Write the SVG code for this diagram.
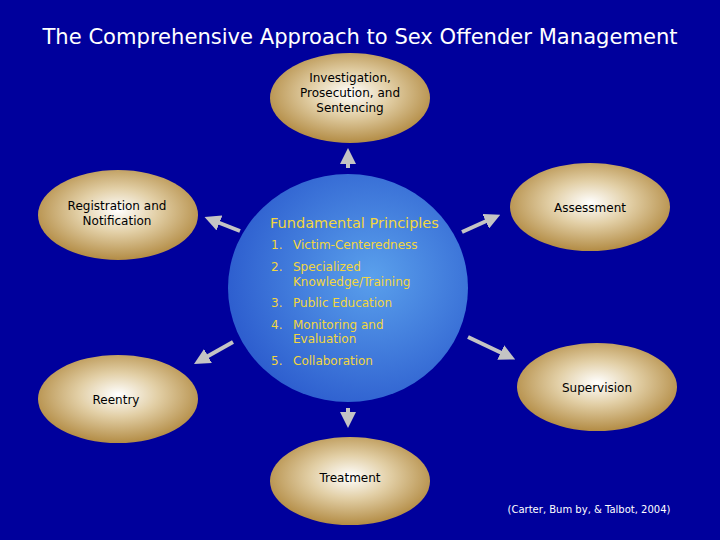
<svg xmlns="http://www.w3.org/2000/svg" width="720" height="540" viewBox="0 0 720 540">
<style>
.n{font-family:"DejaVu Sans",Verdana,sans-serif;font-size:12px;fill:#000;text-anchor:middle}
.y{font-family:"DejaVu Sans",Verdana,sans-serif;font-size:12px;fill:#f2d640}
.h{font-family:"DejaVu Sans",Verdana,sans-serif;font-size:14.5px;fill:#f2d640}
.c{stroke:#c4c4c4;stroke-width:4;fill:none;marker-end:url(#ah)}
</style>
<defs>
<radialGradient id="g" cx="50%" cy="45%" r="55%"><stop offset="0" stop-color="#ffffff"/><stop offset="0.45" stop-color="#e2cfa6"/><stop offset="1" stop-color="#b38c45"/></radialGradient>
<radialGradient id="b" cx="60%" cy="45%" r="60%"><stop offset="0" stop-color="#5aa0ec"/><stop offset="1" stop-color="#2e5fcf"/></radialGradient>
<marker id="ah" markerWidth="4" markerHeight="4" refX="2" refY="2" orient="auto" markerUnits="strokeWidth"><path d="M0,0L4,2L0,4z" fill="#c4c4c4"/></marker>
</defs>
<rect width="720" height="540" fill="#00009c"/>
<text x="360" y="44" font-family="'DejaVu Sans',sans-serif" font-size="22" fill="#fff" text-anchor="middle" textLength="635" lengthAdjust="spacingAndGlyphs">The Comprehensive Approach to Sex Offender Management</text>
<g id="center"><ellipse cx="348" cy="288" rx="120" ry="114" fill="url(#b)"/>
<text class="h" x="270" y="228">Fundamental Principles</text>
<text class="y" x="271" y="249">1.</text><text class="y" x="293" y="249">Victim-Centeredness</text>
<text class="y" x="271" y="271">2.</text><text class="y" x="293" y="271">Specialized</text><text class="y" x="293" y="286">Knowledge/Training</text>
<text class="y" x="271" y="307">3.</text><text class="y" x="293" y="307">Public Education</text>
<text class="y" x="271" y="329">4.</text><text class="y" x="293" y="329">Monitoring and</text><text class="y" x="293" y="343">Evaluation</text>
<text class="y" x="271" y="365">5.</text><text class="y" x="293" y="365">Collaboration</text></g>
<g id="investigation"><ellipse cx="350" cy="98" rx="80" ry="45" fill="url(#g)"/><text class="n" x="350" y="82">Investigation,</text><text class="n" x="350" y="97">Prosecution, and</text><text class="n" x="350" y="112">Sentencing</text></g>
<g id="registration"><ellipse cx="118" cy="215" rx="80" ry="45" fill="url(#g)"/><text class="n" x="117" y="210">Registration and</text><text class="n" x="117" y="225">Notification</text></g>
<g id="assessment"><ellipse cx="590" cy="207" rx="80" ry="44" fill="url(#g)"/><text class="n" x="590" y="212">Assessment</text></g>
<g id="supervision"><ellipse cx="597" cy="387" rx="80" ry="44" fill="url(#g)"/><text class="n" x="597" y="392">Supervision</text></g>
<g id="reentry"><ellipse cx="118" cy="399" rx="80" ry="44" fill="url(#g)"/><text class="n" x="116" y="404">Reentry</text></g>
<g id="treatment"><ellipse cx="350" cy="481" rx="80" ry="44" fill="url(#g)"/><text class="n" x="350" y="482">Treatment</text></g>
<g id="connectors">
<line class="c" x1="348" y1="168" x2="348" y2="156"/>
<line class="c" x1="240" y1="231" x2="212" y2="220"/>
<line class="c" x1="462" y1="232" x2="493" y2="218"/>
<line class="c" x1="468" y1="337" x2="508" y2="356"/>
<line class="c" x1="233" y1="342" x2="201" y2="360"/>
<line class="c" x1="348" y1="408" x2="348" y2="420"/>
</g>
<text x="589" y="513" font-family="'DejaVu Sans',sans-serif" font-size="10" fill="#fff" text-anchor="middle">(Carter, Bum by, &amp; Talbot, 2004)</text>
</svg>
